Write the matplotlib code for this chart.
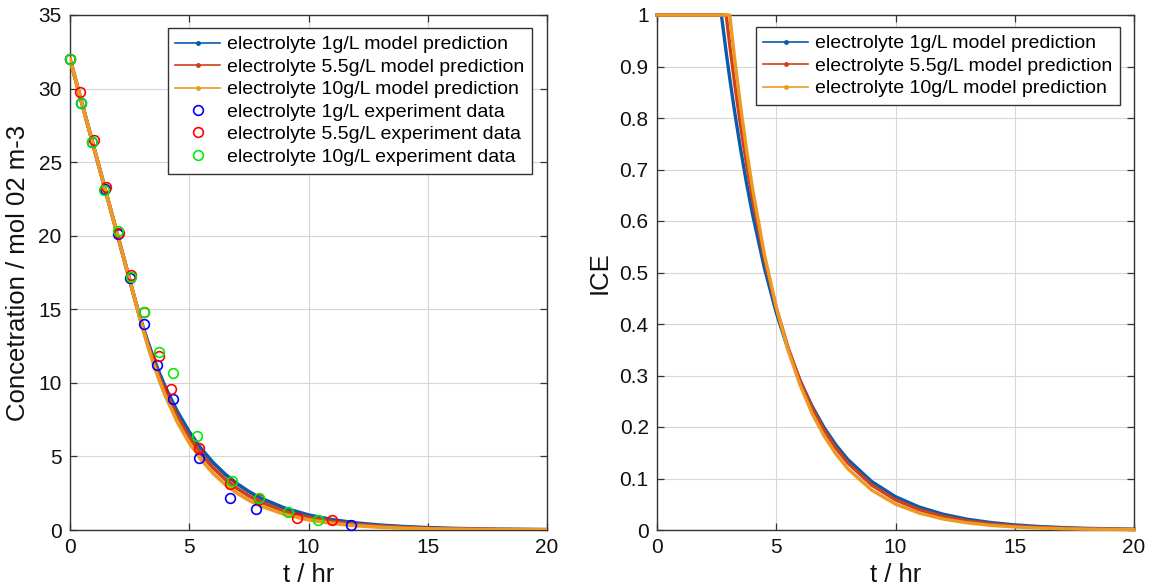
import matplotlib
matplotlib.use('Agg')
import matplotlib.pyplot as plt

plt.rcParams['font.family'] = ['Liberation Sans', 'DejaVu Sans']

# ---------------- data ----------------
t_model = [0, 0.5, 1.0, 1.5, 2.0, 2.5, 2.7, 2.9, 3.05, 3.25, 3.5, 3.75, 4.0, 4.5, 5.0, 5.5,
           6.0, 6.5, 7.0, 7.5, 8.0, 9.0, 10, 11, 12, 13, 14, 15, 16, 17, 18, 20]

conc_1g = [32, 29, 26, 23, 20, 17, 15.8, 14.66, 13.86, 12.85, 11.70, 10.66, 9.70, 8.05, 6.67, 5.53,
           4.58, 3.80, 3.15, 2.61, 2.16, 1.49, 1.02, 0.70, 0.48, 0.33, 0.23, 0.16, 0.11, 0.074, 0.051, 0.024]
conc_55g = [32, 29, 26, 23, 20, 17, 15.8, 14.6, 13.75, 12.69, 11.48, 10.39, 9.40, 7.70, 6.30, 5.16,
            4.23, 3.46, 2.83, 2.32, 1.90, 1.27, 0.853, 0.572, 0.384, 0.257, 0.172, 0.115, 0.077, 0.053, 0.035, 0.016]
conc_10g = [32, 29, 26, 23, 20, 17, 15.8, 14.6, 13.7, 12.57, 11.29, 10.14, 9.11, 7.34, 5.92, 4.78,
            3.85, 3.11, 2.51, 2.02, 1.63, 1.06, 0.69, 0.449, 0.292, 0.190, 0.123, 0.081, 0.052, 0.034, 0.022, 0.010]

ice_1g = [1, 1, 1, 1, 1, 1, 1, 0.9277, 0.8770, 0.8136, 0.7408, 0.6745, 0.6142, 0.5092, 0.4221, 0.3499,
          0.2901, 0.2405, 0.1994, 0.1653, 0.1370, 0.0942, 0.0647, 0.0445, 0.0306, 0.0210, 0.0145, 0.0099,
          0.0068, 0.0047, 0.0032, 0.0015]
ice_55g = [1, 1, 1, 1, 1, 1, 1, 1, 0.9418, 0.8694, 0.7866, 0.7118, 0.6440, 0.5273, 0.4317, 0.3535,
           0.2894, 0.2369, 0.1940, 0.1588, 0.1300, 0.0872, 0.0584, 0.0392, 0.0263, 0.0176, 0.0118, 0.0079,
           0.0053, 0.0036, 0.0024, 0.0011]
ice_10g = [1, 1, 1, 1, 1, 1, 1, 1, 1, 0.9176, 0.8241, 0.7401, 0.6647, 0.5361, 0.4324, 0.3487,
           0.2813, 0.2268, 0.1830, 0.1476, 0.1190, 0.0774, 0.0503, 0.0328, 0.0213, 0.0139, 0.0090, 0.0059,
           0.0038, 0.0025, 0.0016, 0.0007]

t_exp_1g = [0, 0.45, 0.94, 1.45, 2.01, 2.52, 3.11, 3.63, 4.31, 5.41, 6.71, 7.81, 11.8]
c_exp_1g = [32.0, 29.0, 26.4, 23.2, 20.1, 17.1, 14.0, 11.2, 8.9, 4.9, 2.2, 1.4, 0.32]
t_exp_55g = [0, 0.42, 0.99, 1.52, 2.06, 2.55, 3.11, 3.72, 4.23, 5.41, 6.71, 7.94, 9.53, 11.0]
c_exp_55g = [32.0, 29.8, 26.5, 23.3, 20.2, 17.3, 14.8, 11.8, 9.6, 5.6, 3.1, 2.1, 0.8, 0.68]
t_exp_10g = [0, 0.45, 0.94, 1.41, 2.01, 2.55, 3.11, 3.72, 4.31, 5.31, 6.81, 7.94, 9.12, 10.4]
c_exp_10g = [32.0, 29.0, 26.4, 23.1, 20.3, 17.2, 14.8, 12.1, 10.7, 6.4, 3.3, 2.2, 1.25, 0.68]

model_labels = ['electrolyte 1g/L model prediction',
                'electrolyte 5.5g/L model prediction',
                'electrolyte 10g/L model prediction']
exp_labels = ['electrolyte 1g/L experiment data',
              'electrolyte 5.5g/L experiment data',
              'electrolyte 10g/L experiment data']

x_ticks = [0, 5, 10, 15, 20]
conc_ticks = [0, 5, 10, 15, 20, 25, 30, 35]
ice_ticks = [0, 0.1, 0.2, 0.3, 0.4, 0.5, 0.6, 0.7, 0.8, 0.9, 1.0]
ice_ticklabels = ['0', '0.1', '0.2', '0.3', '0.4', '0.5', '0.6', '0.7', '0.8', '0.9', '1']

# ---------------- style ----------------
model_colors = ['#0A5AAE', '#D0401A', '#EE9A22']
exp_colors = ['#0000FF', '#FF0000', '#00EE00']
W, H = 1149, 587
fig = plt.figure(figsize=(W / 100, H / 100), dpi=100)

ax1 = fig.add_axes([70 / W, 1 - 530 / H, 477 / W, 515 / H])
ax2 = fig.add_axes([657 / W, 1 - 530 / H, 477 / W, 515 / H])

def style(ax):
    ax.set_xlim(0, 20)
    ax.set_xticks(x_ticks)
    ax.grid(True, color='#d6d6d6', linewidth=0.8, linestyle='-')
    ax.set_axisbelow(True)
    for s in ax.spines.values():
        s.set_color('#333333')
        s.set_linewidth(1.0)
    ax.tick_params(direction='in', length=5, width=0.9, colors='#333333',
                   labelcolor='#111111', labelsize=15, top=True, right=True, pad=6)
    ax.set_xlabel('t / hr', fontsize=18.5, color='#111111', labelpad=4)

# left
for y, c, lab in zip([conc_1g, conc_55g, conc_10g], model_colors, model_labels):
    ax1.plot(t_model, y, color=c, linewidth=2.6, label=lab, zorder=3)
for tt, cc, c, lab in zip([t_exp_1g, t_exp_55g, t_exp_10g], [c_exp_1g, c_exp_55g, c_exp_10g],
                          exp_colors, exp_labels):
    ax1.plot(tt, cc, linestyle='none', marker='o', markersize=7, markerfacecolor='none',
             markeredgecolor=c, markeredgewidth=1.2, label=lab, zorder=4, clip_on=False)
style(ax1)
ax1.set_ylim(0, 35)
ax1.set_yticks(conc_ticks)
ax1.set_ylabel('Concetration / mol 02 m-3', fontsize=18.5, color='#111111', labelpad=6)

# right
for y, c, lab in zip([ice_1g, ice_55g, ice_10g], model_colors, model_labels):
    ax2.plot(t_model, y, color=c, linewidth=2.4, label=lab, zorder=3, clip_on=False)
style(ax2)
ax2.set_ylim(0, 1)
ax2.set_yticks(ice_ticks)
ax2.set_yticklabels(ice_ticklabels)
ax2.set_ylabel('ICE', fontsize=18.5, color='#111111', labelpad=6)

def add_legend(ax, anchor):
    leg = ax.legend(loc='upper right', bbox_to_anchor=anchor, borderaxespad=0,
                    fontsize=14, frameon=True, fancybox=False, edgecolor='#333333',
                    labelspacing=0.25, handlelength=2.3, handletextpad=0.35,
                    borderpad=0.4, framealpha=1)
    leg.get_frame().set_linewidth(1.0)
    for ln in leg.get_lines():
        if ln.get_linestyle() not in ('None', 'none', ''):
            ln.set_linewidth(1.2)
            ln.set_marker('.')
            ln.set_markersize(5)
    return leg

add_legend(ax1, (1 - 15 / 477, 1 - 13 / 515))
add_legend(ax2, (1 - 14 / 477, 1 - 12 / 515))

fig.savefig('out.png', dpi=100)
